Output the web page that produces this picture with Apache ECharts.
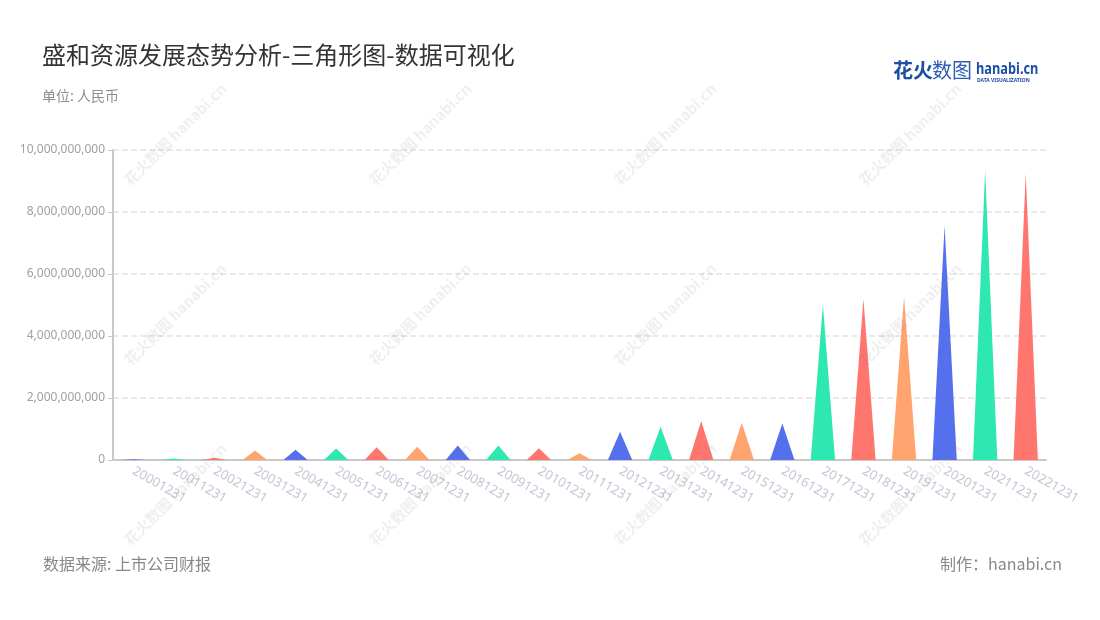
<!DOCTYPE html>
<html>
<head>
<meta charset="utf-8">
<script src="https://cdn.jsdelivr.net/npm/echarts@6/dist/echarts.min.js"></script>
<style>
html,body{margin:0;padding:0;background:#fff;}
#main{width:1100px;height:620px;}
</style>
</head>
<body>
<div id="main"></div>
<script>
var categories = ['20001231','20011231','20021231','20031231','20041231','20051231','20061231','20071231','20081231','20091231','20101231','20111231','20121231','20131231','20141231','20151231','20161231','20171231','20181231','20191231','20201231','20211231','20221231'];
var values = [25000000, 45000000, 75000000, 310000000, 330000000, 370000000, 410000000, 430000000, 470000000, 470000000, 380000000, 220000000, 910000000, 1070000000, 1260000000, 1200000000, 1180000000, 5000000000, 5190000000, 5270000000, 7550000000, 9350000000, 9250000000];
var palette = ['#5470EC', '#2DE8B0', '#FF766F', '#FFA36F'];
var yTicks = [0, 2000000000, 4000000000, 6000000000, 8000000000, 10000000000];

var chart = echarts.init(document.getElementById('main'));

var watermarks = [];
var wmCols = [132, 377, 622, 867];
var wmRows = [188, 368, 548];
wmRows.forEach(function (y) {
  wmCols.forEach(function (x) {
    watermarks.push({
      type: 'text', x: x, y: y, rotation: Math.PI / 4, z: 100, silent: true,
      style: { text: '花火数图 hanabi.cn', fill: 'rgba(120,120,120,0.12)', font: 'bold 15px "Noto Sans CJK SC", sans-serif', textVerticalAlign: 'bottom' }
    });
  });
});

var option = {
  backgroundColor: '#fff',
  title: {
    text: '盛和资源发展态势分析-三角形图-数据可视化',
    subtext: '单位: 人民币',
    left: 37, top: 38,
    itemGap: 22,
    textStyle: { fontSize: 24, fontWeight: 'normal', color: '#333', fontFamily: 'Noto Sans CJK SC' },
    subtextStyle: { fontSize: 14, color: '#8c8c99', fontFamily: 'Noto Sans CJK SC' }
  },
  grid: { left: 113, right: 54, top: 150, bottom: 160, containLabel: false },
  xAxis: {
    type: 'category',
    data: categories,
    axisLine: { lineStyle: { color: '#c8c8c8', width: 2 } },
    axisTick: { alignWithLabel: true, lineStyle: { color: '#c8c8c8' } },
    axisLabel: { rotate: -30, color: '#c3c6d4', fontSize: 13, margin: 10, fontFamily: 'Noto Sans', interval: 0 }
  },
  yAxis: {
    type: 'value',
    min: 0, max: 10000000000, interval: 2000000000,
    axisLine: { show: true, lineStyle: { color: '#c8c8c8', width: 2 } },
    axisTick: { show: true, lineStyle: { color: '#c8c8c8' } },
    axisLabel: {
      color: '#a0a0a0', fontSize: 12, fontFamily: 'Noto Sans',
      formatter: function (v) { return v.toLocaleString('en-US'); }
    },
    splitLine: { lineStyle: { type: 'dashed', color: '#e3e3e3', width: 1.5 } }
  },
  series: [{
    type: 'pictorialBar',
    symbol: 'path://M0,100 L50,0 L100,100 Z',
    symbolSize: ['100%', '100%'],
    barWidth: '60%',
    data: values.map(function (v, i) {
      return { value: v, itemStyle: { color: palette[i % 4] } };
    })
  }],
  graphic: watermarks.concat([
    { type: 'text', left: 893, top: 60, style: { text: '花火', fill: '#1d4fa6', font: 'bold 20px "Noto Sans CJK SC"' } },
    { type: 'text', left: 932, top: 60, style: { text: '数图', fill: '#2d5cb3', font: '20px "Noto Sans CJK SC"' } },
    { type: 'text', x: 976, y: 61, scaleX: 0.8, style: { text: 'hanabi.cn', fill: '#1d4fa6', font: 'bold 16px "Noto Sans"' } },
    { type: 'text', left: 977, top: 78, style: { text: 'DATA VISUALIZATION', fill: '#1d4fa6', font: 'bold 5px "Noto Sans"' } },
    { type: 'text', left: 43, top: 556, style: { text: '数据来源: 上市公司财报', fill: '#888', font: '16px "Noto Sans CJK SC"' } },
    { type: 'text', right: 38, top: 556, style: { text: '制作：hanabi.cn', fill: '#888', font: '16px "Noto Sans CJK SC"' } }
  ])
};
chart.setOption(option);
</script>
</body>
</html>
